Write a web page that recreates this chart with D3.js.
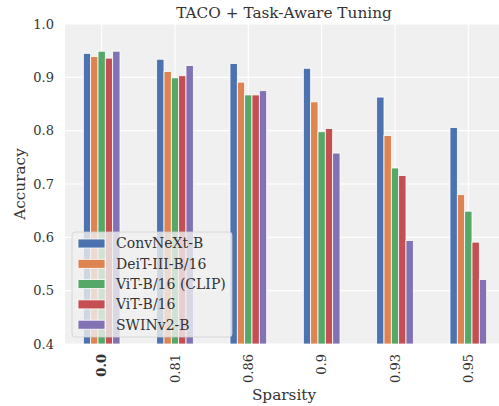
<!DOCTYPE html>
<html lang="en">
<head>
<meta charset="UTF-8">
<title>TACO + Task-Aware Tuning</title>
<style>
  body { margin: 0; background: #fff; }
  svg text { font-family: "DejaVu Serif", serif; fill: #333; }
</style>
</head>
<body>
<svg id="chart" width="499" height="406"></svg>
<script src="https://d3js.org/d3.v7.min.js"></script>
<script>
// data
var sparsity = ["0.0", "0.81", "0.86", "0.9", "0.93", "0.95"];
var models = ["ConvNeXt-B", "DeiT-III-B/16", "ViT-B/16 (CLIP)", "ViT-B/16", "SWINv2-B"];
var convnext = [0.945, 0.934, 0.926, 0.917, 0.863, 0.806];
var deit     = [0.939, 0.911, 0.891, 0.854, 0.791, 0.680];
var vitClip  = [0.949, 0.899, 0.867, 0.798, 0.730, 0.649];
var vit      = [0.936, 0.903, 0.867, 0.804, 0.716, 0.591];
var swin     = [0.949, 0.922, 0.875, 0.758, 0.594, 0.521];
var yTicks = [0.4, 0.5, 0.6, 0.7, 0.8, 0.9, 1.0];

var series = [convnext, deit, vitClip, vit, swin];
var colors = ["#4C72B0", "#DD8452", "#55A868", "#C44E52", "#8172B3"];

var margin = {left: 65, right: -6, top: 24, bottom: 62};
var W = 499, H = 406;
var svg = d3.select("#chart");

var x = d3.scaleBand().domain(sparsity).range([margin.left, W - margin.right]).padding(0);
var y = d3.scaleLinear().domain([0.4, 1.0]).range([H - margin.bottom, margin.top]);
var xs = d3.scaleBand().domain(d3.range(models.length))
    .range([-x.bandwidth() * 0.25, x.bandwidth() * 0.25]);

svg.append("defs").append("clipPath").attr("id", "clip")
  .append("rect").attr("x", margin.left).attr("y", margin.top)
  .attr("width", W - margin.right - margin.left).attr("height", y(0.4) - margin.top);

var plot = svg.append("g").attr("clip-path", "url(#clip)");

// background
plot.append("rect")
    .attr("x", margin.left).attr("y", margin.top)
    .attr("width", W - margin.right - margin.left)
    .attr("height", y(0.4) - margin.top)
    .attr("fill", "#f0f0f0");

// grid
plot.selectAll(".hgrid").data(yTicks).enter().append("line")
    .attr("x1", margin.left).attr("x2", W - margin.right)
    .attr("y1", function(d) { return y(d); }).attr("y2", function(d) { return y(d); })
    .attr("stroke", "#fff").attr("stroke-width", 1.2);
plot.selectAll(".vgrid").data(sparsity).enter().append("line")
    .attr("x1", function(d) { return x(d) + x.bandwidth() / 2; })
    .attr("x2", function(d) { return x(d) + x.bandwidth() / 2; })
    .attr("y1", margin.top).attr("y2", y(0.4))
    .attr("stroke", "#fff").attr("stroke-width", 1.2);

// bars
series.forEach(function(vals, k) {
  plot.selectAll(".bar" + k).data(vals).enter().append("rect")
      .attr("x", function(d, i) { return x(sparsity[i]) + x.bandwidth() / 2 + xs(k); })
      .attr("width", xs.bandwidth())
      .attr("y", function(d) { return y(d); })
      .attr("height", function(d) { return y(0.4) - y(d); })
      .attr("fill", colors[k])
      .attr("stroke", "#fff").attr("stroke-width", 0.8);
});

// y axis labels
svg.selectAll(".ytick").data(yTicks).enter().append("text")
    .attr("x", 54).attr("y", function(d) { return y(d); })
    .attr("dy", "0.35em").attr("text-anchor", "end")
    .style("font-size", "13px")
    .text(function(d) { return d.toFixed(1); });

// x axis labels, rotated
svg.selectAll(".xtick").data(sparsity).enter().append("text")
    .attr("transform", function(d) {
      return "translate(" + (x(d) + x.bandwidth() / 2) + "," + (y(0.4) + 10) + ") rotate(-90)";
    })
    .attr("dy", "0.35em").attr("text-anchor", "end")
    .style("font-size", "13px")
    .style("font-weight", function(d, i) { return i === 0 ? "bold" : "normal"; })
    .text(function(d) { return d; });

// titles
var cx = (margin.left + W - margin.right) / 2 - 1;
svg.append("text").attr("x", cx).attr("y", 18).attr("text-anchor", "middle")
    .style("font-size", "15.3px").text("TACO + Task-Aware Tuning");
svg.append("text").attr("x", cx).attr("y", 400).attr("text-anchor", "middle")
    .style("font-size", "15.3px").text("Sparsity");
svg.append("text")
    .attr("transform", "translate(25," + ((margin.top + y(0.4)) / 2) + ") rotate(-90)")
    .attr("text-anchor", "middle")
    .style("font-size", "15.3px").text("Accuracy");

// legend
var lg = svg.append("g").attr("transform", "translate(72,232)");
lg.append("rect").attr("width", 160).attr("height", 105).attr("rx", 3)
    .attr("fill", "#f0f0f0").attr("fill-opacity", 0.8)
    .attr("stroke", "#d0d0d0").attr("stroke-width", 0.8);
lg.selectAll(".sw").data(models).enter().append("rect")
    .attr("x", 6).attr("y", function(d, i) { return 7 + i * 20.3; })
    .attr("width", 27).attr("height", 9)
    .attr("fill", function(d, i) { return colors[i]; })
    .attr("stroke", "#fff").attr("stroke-width", 0.8);
lg.selectAll(".lt").data(models).enter().append("text")
    .attr("x", 44).attr("y", function(d, i) { return 11.5 + i * 20.3; })
    .attr("dy", "0.35em")
    .style("font-size", "14px")
    .text(function(d) { return d; });
</script>
</body>
</html>
